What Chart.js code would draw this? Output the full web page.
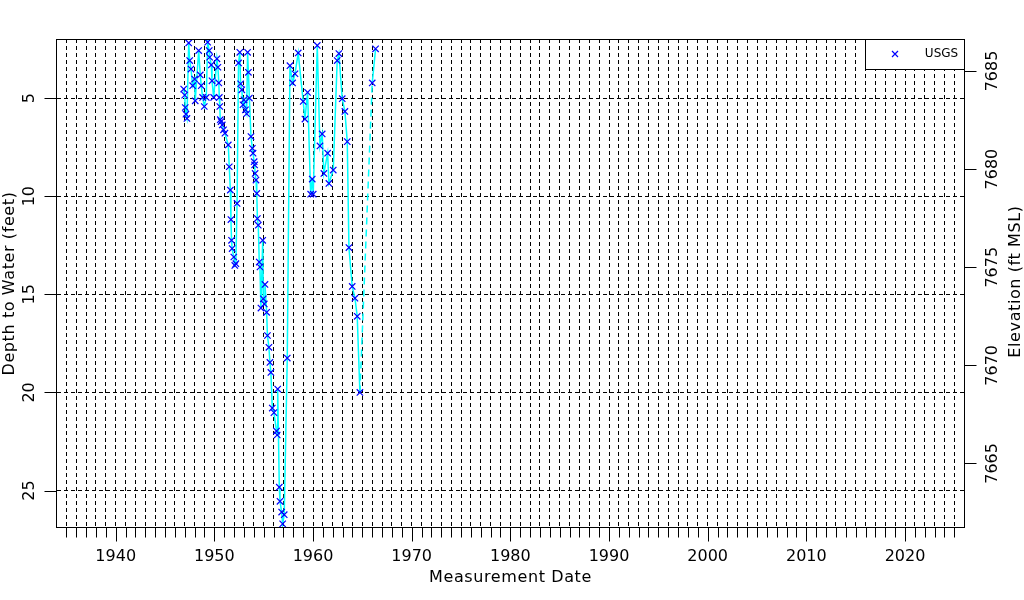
<!DOCTYPE html>
<html>
<head>
<meta charset="utf-8">
<script src="https://cdn.jsdelivr.net/npm/chart.js@4.4.1/dist/chart.umd.min.js"></script>
<style>
html,body{margin:0;padding:0;background:#fff;overflow:hidden}
#wrap{width:1024px;height:600px;position:relative;background:#fff}
</style>
</head>
<body>
<div id="wrap"><canvas id="c" width="1024" height="600"></canvas></div>
<script>
// ---- data ----
const measurementYears = [
  1946.89,1946.99,1947.05,1947.12,1947.22,1947.40,1947.50,1947.63,1947.80,1948.00,
  1948.06,1948.41,1948.57,1948.67,1948.81,1948.98,1949.18,1949.32,1949.48,1949.52,
  1949.69,1949.76,1949.93,1950.26,1950.36,1950.45,1950.50,1950.55,1950.60,1950.68,
  1950.80,1950.93,1951.07,1951.41,1951.51,1951.62,1951.68,1951.74,1951.80,1951.97,
  1952.07,1952.18,1952.30,1952.45,1952.58,1952.66,1952.78,1952.90,1953.00,1953.15,
  1953.27,1953.37,1953.45,1953.55,1953.71,1953.85,1953.92,1954.03,1954.08,1954.13,
  1954.22,1954.30,1954.36,1954.45,1954.55,1954.62,1954.72,1954.90,1954.96,1955.06,
  1955.13,1955.30,1955.38,1955.53,1955.63,1955.73,1955.87,1956.04,1956.30,1956.37,
  1956.42,1956.58,1956.65,1956.82,1956.92,1957.08,1957.39,1957.66,1957.93,1958.17,
  1958.50,1959.00,1959.18,1959.45,1959.76,1959.92,1960.02,1960.43,1960.70,1960.93,
  1961.10,1961.48,1961.61,1962.05,1962.45,1962.62,1962.96,1963.23,1963.47,1963.64,
  1963.97,1964.25,1964.48,1964.75,1966.00,1966.34
];
const depthFeet = [
  4.54,4.85,5.48,5.82,6.04,2.19,3.09,3.52,4.37,4.03,
  5.14,2.58,3.82,4.37,4.97,5.43,4.97,2.15,2.58,2.92,
  3.31,4.12,4.97,3.00,3.43,4.23,4.97,5.43,6.10,6.20,
  6.37,6.62,6.79,7.39,8.50,9.69,11.19,12.25,12.67,13.10,
  13.53,13.44,10.37,3.21,2.67,4.27,4.58,5.34,5.09,5.60,
  5.80,2.67,3.69,5.00,6.96,7.56,7.81,8.24,8.41,8.84,
  9.18,9.86,11.14,11.48,13.36,13.61,15.70,12.25,15.23,15.49,
  14.50,15.92,17.10,17.70,18.47,18.98,20.80,21.03,21.97,22.17,
  19.83,24.83,25.55,26.10,26.70,26.23,18.25,3.35,4.23,3.76,
  2.70,5.17,6.07,4.71,9.90,9.13,9.90,2.32,7.44,6.83,
  8.84,7.81,9.35,8.67,3.09,2.73,5.03,5.68,7.22,12.62,
  14.60,15.20,16.12,20.00,4.23,2.49
];
const seriesName = 'USGS';
const decadeLabels = [1940,1950,1960,1970,1980,1990,2000,2010,2020];
const depthTicks = [5,10,15,20,25];
const elevationTicks = [7665,7670,7675,7680,7685];
const landSurfaceElevation = 7688.62;   // elevation = landSurfaceElevation - depth
const yearRange = [1934.05, 2025.98];
const depthRange = [1.99, 26.91];
const firstYearTick = 1935, lastYearTick = 2025;

const yearGrid = [];
for (let y = firstYearTick; y <= lastYearTick; y++) yearGrid.push(y);

const FONT = '"DejaVu Sans", "Liberation Sans", sans-serif';

const points = measurementYears.map((x, i) => ({ x: x, y: depthFeet[i] }));

const framePlugin = {
  id: 'framePlugin',
  afterDraw(chart) {
    const ctx = chart.ctx;
    const a = chart.chartArea;
    const xs = chart.scales.x, ys = chart.scales.y, y2 = chart.scales.y2;
    const x0 = a.left - 0.5, x1 = a.right + 0.5, yT = a.top + 0.5, yB = a.bottom - 0.5;
    ctx.save();
    ctx.strokeStyle = '#000';
    ctx.lineWidth = 1;
    ctx.setLineDash([]);
    ctx.strokeRect(x0, yT, x1 - x0, yB - yT);

    // bottom ticks
    ctx.beginPath();
    yearGrid.forEach(yr => {
      const px = Math.round(xs.getPixelForValue(yr)) + 0.5;
      const len = (yr % 10 === 0) ? 14 : 10;
      ctx.moveTo(px, yB); ctx.lineTo(px, yB + len);
    });
    // left ticks
    depthTicks.forEach(d => {
      const py = Math.round(ys.getPixelForValue(d)) + 0.5;
      ctx.moveTo(x0 - 12, py); ctx.lineTo(x0, py);
    });
    // right ticks
    elevationTicks.forEach(e => {
      const py = Math.round(y2.getPixelForValue(e)) + 0.5;
      ctx.moveTo(x1, py); ctx.lineTo(x1 + 12, py);
    });
    ctx.stroke();

    ctx.fillStyle = '#000';
    ctx.font = '16px ' + FONT;
    ctx.textBaseline = 'middle';
    ctx.textAlign = 'center';
    decadeLabels.forEach(yr => {
      ctx.fillText(String(yr), xs.getPixelForValue(yr), 557);
    });
    depthTicks.forEach(d => {
      ctx.save();
      ctx.translate(30, ys.getPixelForValue(d));
      ctx.rotate(-Math.PI / 2);
      ctx.fillText(String(d), 0, 0);
      ctx.restore();
    });
    elevationTicks.forEach(e => {
      ctx.save();
      ctx.translate(993, y2.getPixelForValue(e));
      ctx.rotate(-Math.PI / 2);
      ctx.fillText(String(e), 0, 0);
      ctx.restore();
    });

    // axis titles
    try { ctx.letterSpacing = '0.6px'; } catch (e) {}
    const midY = (a.top + a.bottom) / 2;
    ctx.fillText('Measurement Date', (a.left + a.right) / 2, 578);
    ctx.save();
    ctx.translate(10, midY);
    ctx.rotate(-Math.PI / 2);
    ctx.fillText('Depth to Water (feet)', 0, 0);
    ctx.restore();
    ctx.save();
    ctx.translate(1016, midY - 2);
    ctx.rotate(-Math.PI / 2);
    ctx.fillText('Elevation (ft MSL)', 0, 0);
    ctx.restore();
    try { ctx.letterSpacing = '0px'; } catch (e) {}

    // legend box
    const lx0 = 865.5, ly0 = yT, lx1 = x1, ly1 = 69.5;
    ctx.fillStyle = '#fff';
    ctx.fillRect(lx0, ly0, lx1 - lx0, ly1 - ly0);
    ctx.strokeRect(lx0, ly0, lx1 - lx0, ly1 - ly0);
    const mx = 895, my = 54, r = 3;
    ctx.strokeStyle = '#0000FF';
    ctx.lineWidth = 1.2;
    ctx.beginPath();
    ctx.moveTo(mx - r, my - r); ctx.lineTo(mx + r, my + r);
    ctx.moveTo(mx - r, my + r); ctx.lineTo(mx + r, my - r);
    ctx.stroke();
    ctx.fillStyle = '#000';
    ctx.font = '12px ' + FONT;
    ctx.textAlign = 'center';
    ctx.fillText(seriesName, 941.5, 54);
    ctx.restore();
  }
};

new Chart(document.getElementById('c').getContext('2d'), {
  type: 'line',
  data: {
    datasets: [{
      label: seriesName,
      data: points,
      borderColor: '#00FFFF',
      borderWidth: 1.5,
      pointStyle: 'crossRot',
      pointRadius: 4.5,
      pointBorderColor: '#0000FF',
      pointBackgroundColor: '#0000FF',
      pointBorderWidth: 1.2,
      tension: 0,
      fill: false,
      segment: {
        borderDash: c => (c.p1.parsed.x - c.p0.parsed.x > 1 ? [7, 5] : undefined)
      }
    }]
  },
  options: {
    responsive: false,
    animation: false,
    devicePixelRatio: 1,
    layout: { padding: { top: 39, left: 0, right: 0, bottom: 0 } },
    plugins: { legend: { display: false }, tooltip: { enabled: false } },
    scales: {
      x: {
        type: 'linear', position: 'bottom',
        min: yearRange[0], max: yearRange[1],
        afterBuildTicks: s => { s.ticks = yearGrid.map(v => ({ value: v })); },
        afterFit: s => { s.height = 72; },
        ticks: { display: false },
        grid: { color: '#000', lineWidth: 1, drawTicks: false },
        border: { display: false, dash: [4, 3] }
      },
      y: {
        type: 'linear', position: 'left', reverse: true,
        min: depthRange[0], max: depthRange[1],
        afterBuildTicks: s => { s.ticks = depthTicks.map(v => ({ value: v })); },
        afterFit: s => { s.width = 57; },
        ticks: { display: false },
        grid: { color: '#000', lineWidth: 1, drawTicks: false },
        border: { display: false, dash: [4, 3] }
      },
      y2: {
        type: 'linear', position: 'right',
        min: landSurfaceElevation - depthRange[1], max: landSurfaceElevation - depthRange[0],
        afterBuildTicks: s => { s.ticks = elevationTicks.map(v => ({ value: v })); },
        afterFit: s => { s.width = 60; },
        ticks: { display: false },
        grid: { display: false, drawTicks: false },
        border: { display: false }
      }
    }
  },
  plugins: [framePlugin]
});
</script>
</body>
</html>
